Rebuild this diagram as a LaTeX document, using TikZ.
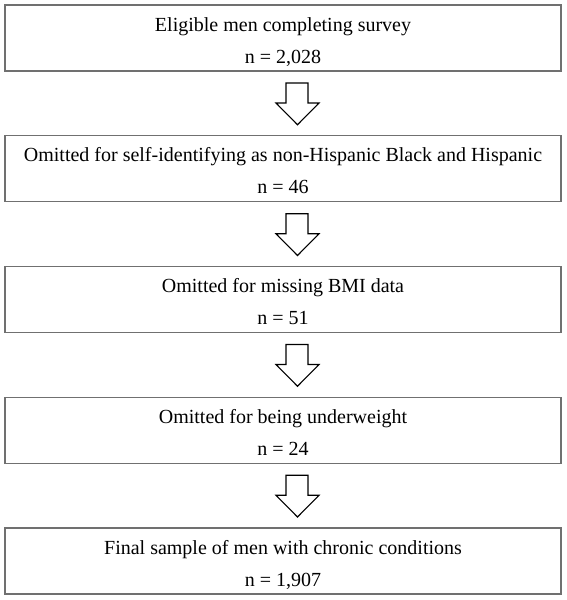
\documentclass[tikz,border=0pt]{standalone}
\usepackage{fontspec}
\setmainfont{Liberation Serif}
\usetikzlibrary{calc}
\tikzset{
  stagebox/.style={draw={rgb,255:red,112;green,112;blue,112}, line width=1.4pt, minimum width=556pt, minimum height=66pt, inner sep=0pt, outer sep=0pt, anchor=north west},
  boxtext/.style={anchor=base, inner sep=0pt, font=\fontsize{20}{24}\selectfont},
  blockarrow/.style={draw=black, line width=1.1pt, fill=white, line join=miter}
}
\begin{document}
\begin{tikzpicture}[x=1pt,y=-1pt]
\useasboundingbox (0,0) rectangle (567,600);
\node[stagebox] (b1) at (5,5) {};
\node[stagebox] (b2) at (5,135.75) {};
\node[stagebox] (b3) at (5,266.5) {};
\node[stagebox] (b4) at (5,397.25) {};
\node[stagebox] (b5) at (5,528) {};
\node[boxtext] (t1a) at ($(b1.north)+(0,26)$) {Eligible men completing survey};
\node[boxtext] (t1b) at ($(b1.north)+(0,58)$) {n = 2,028};
\node[boxtext] (t2a) at ($(b2.north)+(0,26)$) {Omitted for self-identifying as non-Hispanic Black and Hispanic};
\node[boxtext] (t2b) at ($(b2.north)+(0,58)$) {n = 46};
\node[boxtext] (t3a) at ($(b3.north)+(0,26)$) {Omitted for missing BMI data};
\node[boxtext] (t3b) at ($(b3.north)+(0,58)$) {n = 51};
\node[boxtext] (t4a) at ($(b4.north)+(0,26)$) {Omitted for being underweight};
\node[boxtext] (t4b) at ($(b4.north)+(0,58)$) {n = 24};
\node[boxtext] (t5a) at ($(b5.north)+(0,26)$) {Final sample of men with chronic conditions};
\node[boxtext] (t5b) at ($(b5.north)+(0,58)$) {n = 1,907};
\foreach \a/\b in {b1/b2,b2/b3,b3/b4,b4/b5}{
  \draw[blockarrow] ($(\a.south)+(3,12)$) -- ($(\a.south)+(25,12)$) -- ($(\a.south)+(25,32)$) -- ($(\a.south)+(36,32)$) -- ($(\b.north)+(14.5,-11)$) -- ($(\a.south)+(-7,32)$) -- ($(\a.south)+(3,32)$) -- cycle;
}
\end{tikzpicture}
\end{document}
